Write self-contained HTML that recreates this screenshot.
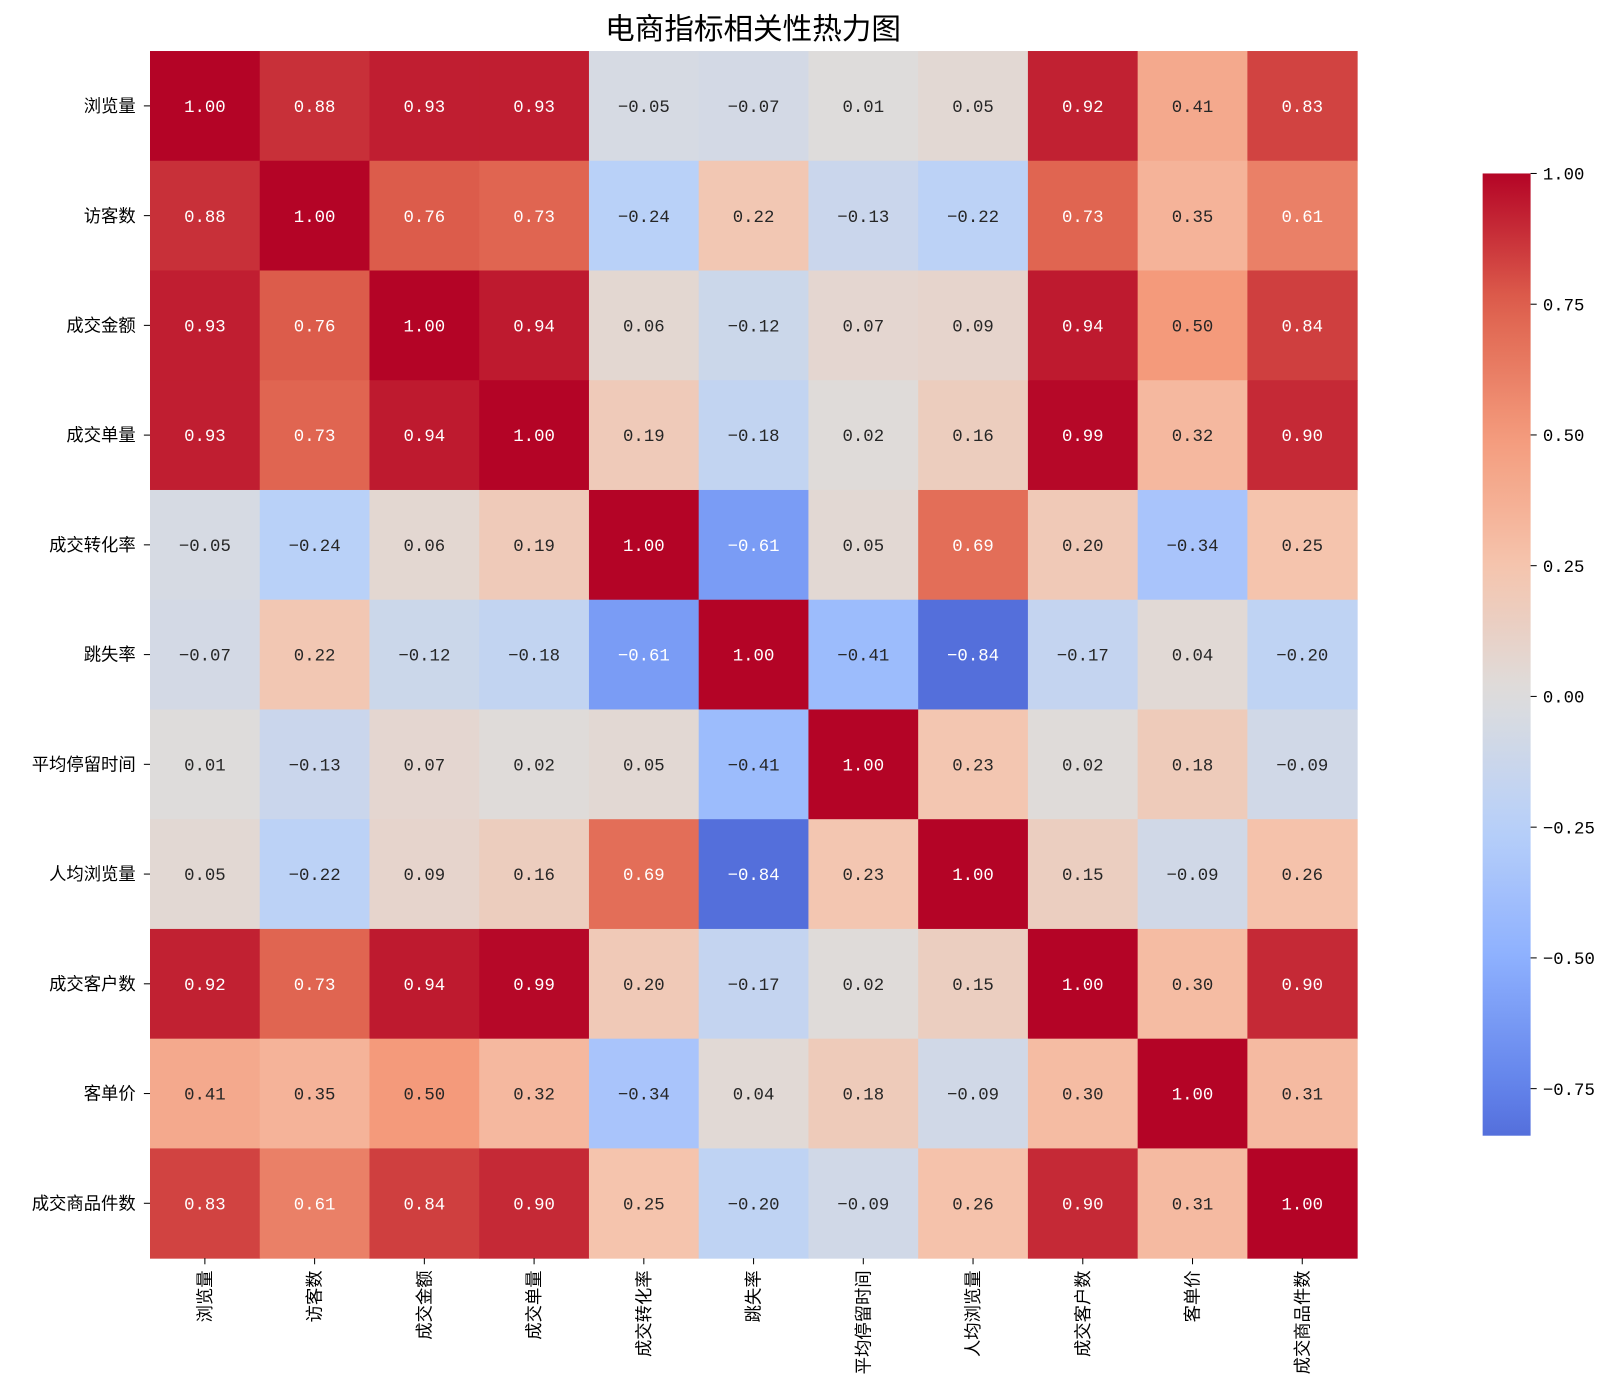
<!DOCTYPE html>
<html><head><meta charset="utf-8">
<style>
html,body{margin:0;padding:0;background:#fff;overflow:hidden;width:1600px;height:1397px;}
svg{display:block;}
svg text{font-family:"WenQuanYi Zen Hei","Noto Sans CJK SC",sans-serif;}
svg text.num{font-family:"Liberation Mono","DejaVu Sans Mono",monospace;}
</style></head>
<body>
<svg id="chart" width="1600" height="1397" viewBox="0 0 1600 1397" xmlns="http://www.w3.org/2000/svg">
<defs><linearGradient id="cbg" x1="0" y1="1" x2="0" y2="0"></linearGradient></defs>
<g transform="scale(1.0204)">
<text x="738" y="38" font-size="29" text-anchor="middle" fill="#000">电商指标相关性热力图</text>
<g id="cells"></g>
<g id="labels"></g>
<g id="cbar"></g>
</g>
</svg>
<script>
const categories=["浏览量","访客数","成交金额","成交单量","成交转化率","跳失率","平均停留时间","人均浏览量","成交客户数","客单价","成交商品件数"];
const row0=[1.00,0.88,0.93,0.93,-0.05,-0.07,0.01,0.05,0.92,0.41,0.83];
const row1=[0.88,1.00,0.76,0.73,-0.24,0.22,-0.13,-0.22,0.73,0.35,0.61];
const row2=[0.93,0.76,1.00,0.94,0.06,-0.12,0.07,0.09,0.94,0.50,0.84];
const row3=[0.93,0.73,0.94,1.00,0.19,-0.18,0.02,0.16,0.99,0.32,0.90];
const row4=[-0.05,-0.24,0.06,0.19,1.00,-0.61,0.05,0.69,0.20,-0.34,0.25];
const row5=[-0.07,0.22,-0.12,-0.18,-0.61,1.00,-0.41,-0.84,-0.17,0.04,-0.20];
const row6=[0.01,-0.13,0.07,0.02,0.05,-0.41,1.00,0.23,0.02,0.18,-0.09];
const row7=[0.05,-0.22,0.09,0.16,0.69,-0.84,0.23,1.00,0.15,-0.09,0.26];
const row8=[0.92,0.73,0.94,0.99,0.20,-0.17,0.02,0.15,1.00,0.30,0.90];
const row9=[0.41,0.35,0.50,0.32,-0.34,0.04,0.18,-0.09,0.30,1.00,0.31];
const row10=[0.83,0.61,0.84,0.90,0.25,-0.20,-0.09,0.26,0.90,0.31,1.00];
const matrix=[row0,row1,row2,row3,row4,row5,row6,row7,row8,row9,row10];
const cbTicks=[1.00,0.75,0.50,0.25,0.00,-0.25,-0.50,-0.75];
const cbTickLabels=["1.00","0.75","0.50","0.25","0.00","−0.25","−0.50","−0.75"];

const NS="http://www.w3.org/2000/svg";
const X0=147,Y0=50,W=1183,H=1183,n=categories.length,cw=W/n,ch=H/n;
const vmin=Math.min(...matrix.flat()),vmax=Math.max(...matrix.flat());
const vr=Math.max(vmax,-vmin);
const stops=[[59,76,192],[98,130,234],[141,176,254],[184,208,249],[221,221,221],[245,196,173],[244,154,123],[222,96,77],[180,4,38]];
function cmap(t){t=Math.max(0,Math.min(1,t));const p=t*8,i=Math.min(7,Math.floor(p)),f=p-i;const a=stops[i],b=stops[i+1];return a.map((v,k)=>Math.round(v+(b[k]-v)*f));}
function norm(v){return (v+vr)/(2*vr);}
function lum(c){const l=c.map(v=>{v/=255;return v<=0.03928?v/12.92:Math.pow((v+0.055)/1.055,2.4);});return 0.2126*l[0]+0.7152*l[1]+0.0722*l[2];}
function fmt(v){return (v<0?"−":"")+Math.abs(v).toFixed(2);}
function xs(j){return X0+j*cw;}
function ys(i){return Y0+i*ch;}
function mk(tag,attrs,parent){const e=document.createElementNS(NS,tag);for(const k in attrs)e.setAttribute(k,attrs[k]);parent.appendChild(e);return e;}
const cells=document.getElementById('cells');
matrix.forEach((row,i)=>row.forEach((v,j)=>{
  const c=cmap(norm(v));
  const r=mk('rect',{x:xs(j),y:ys(i),width:cw+0.5,height:ch+0.5,fill:`rgb(${c})`},cells);
  
  
  const t=mk('text',{class:'num',x:xs(j)+cw/2,y:ys(i)+ch/2+6,'font-size':17,'text-anchor':'middle',fill:lum(c)<0.408?'#ffffff':'#262626'},cells);
  
  
  t.textContent=fmt(v);
}));
const labels=document.getElementById('labels');
categories.forEach((name,i)=>{
  const y=ys(i)+ch/2;
  mk('line',{x1:X0-6,y1:y,x2:X0,y2:y,stroke:'#000','stroke-width':1},labels);
  const t=mk('text',{x:X0-14,y:y+6,'font-size':17,'text-anchor':'end',fill:'#000'},labels);
  
  
  t.textContent=name;
  const x=xs(i)+cw/2;
  mk('line',{x1:x,y1:Y0+H,x2:x,y2:Y0+H+6,stroke:'#000','stroke-width':1},labels);
  const tx=mk('text',{x:0,y:0,'font-size':17,'text-anchor':'end',fill:'#000',transform:`translate(${x+6},${Y0+H+12}) rotate(-90)`},labels);
  
  
  tx.textContent=name;
});
const CBX=1453,CBW=47,CBT=170,CBB=1113;
const grad=document.getElementById('cbg');
for(let k=0;k<=32;k++){const v=vmin+(vmax-vmin)*k/32;const c=cmap(norm(v));mk('stop',{offset:(k/32),'stop-color':`rgb(${c})`},grad);}
const cb=document.getElementById('cbar');
const cbr=mk('rect',{x:CBX,y:CBT,width:CBW,height:CBB-CBT,fill:'url(#cbg)'},cb);


function cby(v){return CBB-(v-vmin)/(vmax-vmin)*(CBB-CBT);}
cbTicks.forEach((v,k)=>{
  const y=cby(v);
  mk('line',{x1:CBX+CBW,y1:y,x2:CBX+CBW+6,y2:y,stroke:'#000','stroke-width':1},cb);
  const t=mk('text',{class:'num',x:CBX+CBW+12,y:y+6,'font-size':17,fill:'#000'},cb);
  
  
  t.textContent=cbTickLabels[k];
});
</script>
</body></html>
